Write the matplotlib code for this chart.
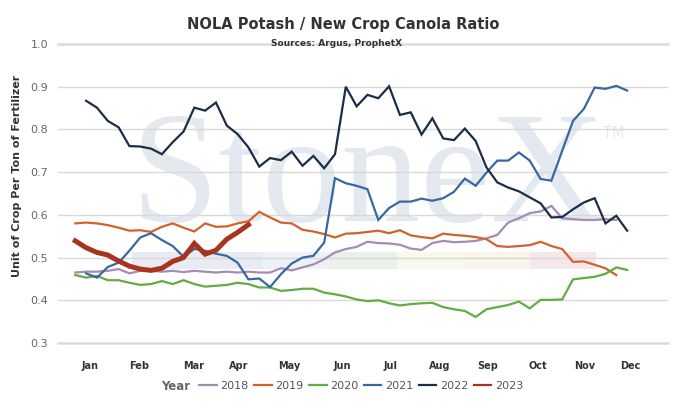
import matplotlib as mpl
import matplotlib.pyplot as plt
import numpy as np

# weekly ratio values (week number -> ratio)
start_2018 = 1
ratio_2018 = [0.465, 0.467, 0.467, 0.469, 0.473, 0.463, 0.469, 0.469, 0.467, 0.469, 0.466, 0.469,
              0.467, 0.465, 0.467, 0.465, 0.467, 0.465, 0.465, 0.475, 0.470, 0.477, 0.484, 0.496,
              0.512, 0.520, 0.525, 0.537, 0.534, 0.533, 0.530, 0.521, 0.518, 0.534, 0.539, 0.536,
              0.537, 0.539, 0.545, 0.553, 0.582, 0.592, 0.604, 0.608, 0.621, 0.592, 0.590, 0.588,
              0.588, 0.590, 0.588]

start_2019 = 1
ratio_2019 = [0.580, 0.582, 0.580, 0.576, 0.570, 0.563, 0.564, 0.560, 0.572, 0.580, 0.570, 0.561,
              0.580, 0.572, 0.573, 0.580, 0.585, 0.607, 0.594, 0.582, 0.580, 0.565, 0.561, 0.555,
              0.547, 0.556, 0.557, 0.560, 0.563, 0.557, 0.564, 0.552, 0.548, 0.545, 0.556, 0.553,
              0.551, 0.548, 0.543, 0.527, 0.525, 0.527, 0.529, 0.537, 0.527, 0.520, 0.490, 0.491,
              0.483, 0.475, 0.459]

start_2020 = 1
ratio_2020 = [0.459, 0.453, 0.457, 0.447, 0.447, 0.441, 0.436, 0.438, 0.445, 0.438, 0.447, 0.438,
              0.432, 0.434, 0.436, 0.441, 0.438, 0.430, 0.430, 0.422, 0.424, 0.427, 0.427, 0.418,
              0.414, 0.409, 0.402, 0.398, 0.400, 0.393, 0.388, 0.391, 0.393, 0.394, 0.384, 0.379,
              0.375, 0.361, 0.379, 0.384, 0.389, 0.397, 0.381, 0.401, 0.401, 0.402, 0.449, 0.452,
              0.455, 0.462, 0.477, 0.471]

start_2021 = 2
ratio_2021 = [0.463, 0.453, 0.478, 0.488, 0.516, 0.547, 0.557, 0.541, 0.527, 0.502, 0.520, 0.516,
              0.509, 0.504, 0.488, 0.449, 0.451, 0.431, 0.461, 0.486, 0.500, 0.504, 0.535, 0.686,
              0.674, 0.668, 0.660, 0.588, 0.616, 0.631, 0.631, 0.638, 0.633, 0.639, 0.654, 0.685,
              0.668, 0.699, 0.727, 0.727, 0.746, 0.727, 0.684, 0.680, 0.750, 0.820, 0.848, 0.898,
              0.895, 0.902, 0.891]

start_2022 = 2
ratio_2022 = [0.867, 0.851, 0.820, 0.805, 0.761, 0.760, 0.755, 0.742, 0.770, 0.795, 0.851, 0.844,
              0.863, 0.809, 0.789, 0.758, 0.713, 0.733, 0.728, 0.748, 0.715, 0.738, 0.709, 0.742,
              0.900, 0.854, 0.881, 0.873, 0.901, 0.834, 0.840, 0.788, 0.826, 0.779, 0.775, 0.802,
              0.773, 0.711, 0.676, 0.664, 0.655, 0.641, 0.627, 0.594, 0.595, 0.613, 0.629, 0.639,
              0.580, 0.598, 0.563]

start_2023 = 1
ratio_2023 = [0.539, 0.523, 0.512, 0.506, 0.492, 0.480, 0.473, 0.470, 0.475, 0.491, 0.500, 0.533,
              0.508, 0.517, 0.543, 0.559, 0.577]

months = ["Jan", "Feb", "Mar", "Apr", "May", "Jun", "Jul", "Aug", "Sep", "Oct", "Nov", "Dec"]
month_pos = [2.4, 6.9, 11.9, 16.1, 20.8, 25.7, 30.1, 34.7, 39.1, 43.7, 48.1, 52.3]
y_ticks = [0.3, 0.4, 0.5, 0.6, 0.7, 0.8, 0.9, 1.0]

series = [
    ("2018", start_2018, ratio_2018, "#a48cb5", 1.6),
    ("2019", start_2019, ratio_2019, "#d2622b", 1.6),
    ("2020", start_2020, ratio_2020, "#62ad42", 1.6),
    ("2021", start_2021, ratio_2021, "#3868a2", 1.6),
    ("2022", start_2022, ratio_2022, "#1b2d48", 1.6),
    ("2023", start_2023, ratio_2023, "#a8341f", 3.6),
]

mpl.rcParams.update({
    "font.family": "DejaVu Sans",
    "axes.spines.top": False,
    "axes.spines.right": False,
    "axes.spines.left": False,
    "axes.spines.bottom": False,
})

fig = plt.figure(figsize=(6.94, 4.13), dpi=100)
ax = fig.add_axes([58 / 694, 1 - 343 / 413, 609.7 / 694, 299 / 413])

# watermark logo + faint colour strip
ax.text(130 / 609.7 - 58 / 609.7, (343 - 221) / 299, "StoneX", transform=ax.transAxes,
        family="Liberation Serif", fontsize=114, color="#e4e9f0", ha="left", va="baseline",
        zorder=0.2)
ax.text((603 - 58) / 609.7, (343 - 138) / 299, "TM", transform=ax.transAxes,
        fontsize=10.5, color="#e4e9f0", ha="left", va="baseline", zorder=0.2)
strip = [(132, 263, "#e8ecf2"), (263, 330, "#ecf2f8"), (330, 397, "#eaf0ea"),
         (397, 463, "#f8f8eb"), (463, 530, "#fbf4e8"), (530, 596, "#f6e7ea")]
for x0, x1, c in strip:
    ax.add_patch(plt.Rectangle(((x0 - 58) / 609.7, (343 - 269) / 299), (x1 - x0) / 609.7,
                               17 / 299, transform=ax.transAxes, color=c, lw=0, zorder=0.1))

for label, start, vals, color, lw in series:
    weeks = np.arange(start, start + len(vals))
    ax.plot(weeks, vals, color=color, lw=lw, label=label, solid_joinstyle="miter", zorder=3)

ax.set_xlim(-0.6, 55.75)
ax.set_ylim(0.3, 1.0)
ax.set_yticks(y_ticks)
ax.set_yticklabels([f"{v:.1f}" for v in y_ticks], color="#666666", fontsize=8)
ax.set_xticks(month_pos)
ax.set_xticklabels(months, fontsize=7, fontweight="bold", color="#333333")
ax.tick_params(axis="x", length=0, pad=13)
ax.tick_params(axis="y", length=0, pad=7)
ax.set_axisbelow(True)
ax.grid(axis="y", color="#d9d9d9", lw=1)
for v in (0.3, 1.0):
    ax.axhline(v, color="#dcdcdc", lw=1.8, zorder=0.6, clip_on=False)

ax.set_ylabel("Unit of Crop Per Ton of Fertilizer", fontsize=8, fontweight="bold", color="#333333")
ax.yaxis.set_label_coords(-0.059, 0.56)

fig.text(0.495, 1 - 24 / 413, "NOLA Potash / New Crop Canola Ratio", ha="center", va="center",
         fontsize=10.5, fontweight="bold", color="#333333")
fig.text(0.485, 1 - 43 / 413, "Sources: Argus, ProphetX", ha="center", va="center",
         fontsize=6.5, fontweight="bold", color="#333333")

fig.text(176 / 694, 1 - 386 / 413, "Year", ha="center", va="center", fontsize=8.5,
         fontweight="bold", color="#666666")
fig.legend(loc="center", bbox_to_anchor=(361 / 694, 1 - 386 / 413), ncol=6, frameon=False,
           fontsize=8, handlelength=1.6, handletextpad=0.3, columnspacing=0.5,
           labelcolor="#555555")
leg = fig.legends[0]
for h in leg.get_lines():
    h.set_linewidth(1.6)

fig.savefig("out.png", dpi=100)
